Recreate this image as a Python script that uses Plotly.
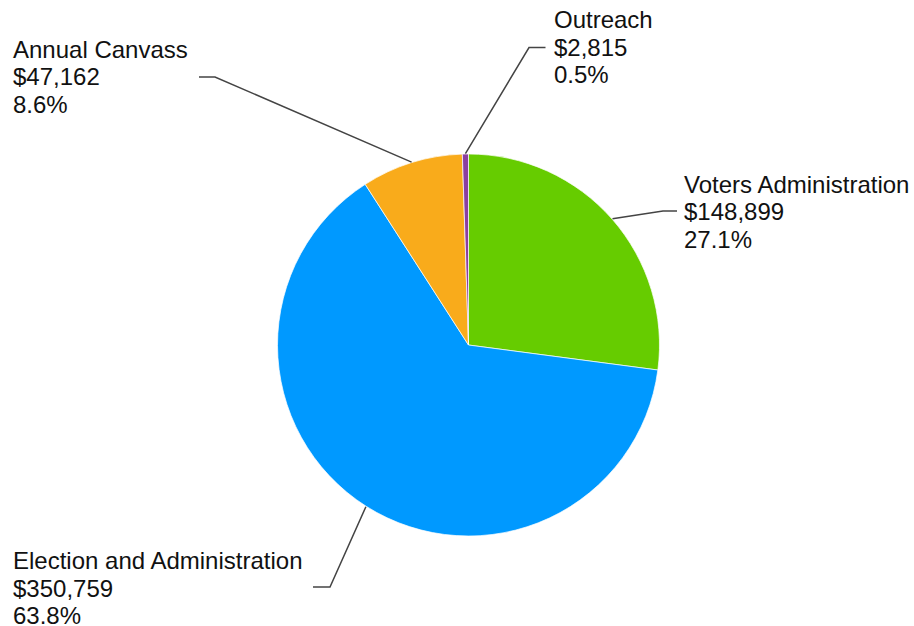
import math
import plotly.graph_objects as go

# ---- data ----
categories = ["Voters Administration", "Election and Administration", "Annual Canvass", "Outreach"]
amounts = [148899, 350759, 47162, 2815]
percent_labels = ["27.1%", "63.8%", "8.6%", "0.5%"]
colors = ["#66cc00", "#0099ff", "#f9ab1b", "#8b3fa0"]

# ---- layout (pixels) ----
W, H = 914, 626
cx, cy, R = 468.5, 345.0, 191.0
LINE_GAP = 27.8
FONT_SIZE = 24
# label text left x, middle-line y, leader elbow (x, y), horizontal end x
label_pos = [
    (682, 212, (663, 211), 677),
    (11, 588, (330, 587), 313),
    (11, 77, (215, 77), 199),
    (552, 47, (529, 47.5), 545.5),
]

def px(x):
    return x / W

def py(y):
    return 1 - y / H

fig = go.Figure()
fig.add_trace(go.Pie(
    labels=categories,
    values=amounts,
    sort=False,
    direction="clockwise",
    rotation=0,
    textinfo="none",
    hoverinfo="skip",
    marker=dict(colors=colors, line=dict(color="white", width=0.7)),
    domain=dict(x=[px(cx - R), px(cx + R)], y=[py(cy + R), py(cy - R)]),
    showlegend=False,
))

total = sum(amounts)
cum = 0.0
for i, (cat, amt, pct) in enumerate(zip(categories, amounts, percent_labels)):
    mid = (cum + amt / 2) / total * 2 * math.pi
    cum += amt
    sx = cx + (R + 0.5) * math.sin(mid)
    sy = cy - (R + 0.5) * math.cos(mid)
    tx, ty, (ex, ey), hx = label_pos[i]
    fig.add_shape(type="path", xref="paper", yref="paper",
                  path=f"M {px(sx)} {py(sy)} L {px(ex)} {py(ey)} L {px(hx)} {py(ey)}",
                  line=dict(color="#444444", width=1.5))
    lines = [cat, f"${amt:,}", pct]
    for k, txt in enumerate(lines):
        fig.add_annotation(
            x=px(tx), y=py(ty + (k - 1) * LINE_GAP), xref="paper", yref="paper",
            xanchor="left", yanchor="middle", align="left", showarrow=False,
            text=txt,
            font=dict(family="Liberation Sans, Arial", size=FONT_SIZE, color="#111111"),
        )

fig.update_layout(
    width=W, height=H,
    margin=dict(l=0, r=0, t=0, b=0),
    paper_bgcolor="white", plot_bgcolor="white",
)
fig.write_html("out.html", config={"displayModeBar": False},
               post_script="document.body.style.margin='0';")
